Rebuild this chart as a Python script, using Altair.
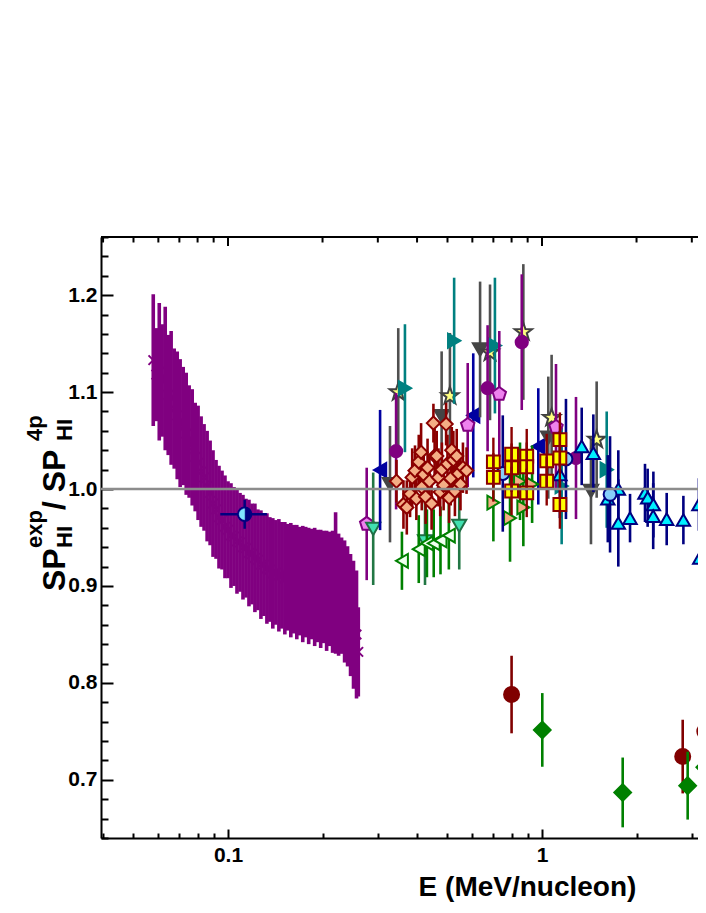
import altair as alt
import pandas as pd

# ---------------- data ----------------
# dense low-energy series (purple, x markers)
band_E = [0.0578, 0.0591, 0.0604, 0.0617, 0.0631, 0.0645, 0.0659, 0.0674, 0.0689, 0.0704,
          0.0720, 0.0736, 0.0752, 0.0769, 0.0786, 0.0803, 0.0821, 0.0839, 0.0858, 0.0877,
          0.0896, 0.0916, 0.0936, 0.0957, 0.0978, 0.1000, 0.1022, 0.1045, 0.1068, 0.1092,
          0.1116, 0.1141, 0.1166, 0.1192, 0.1218, 0.1245, 0.1273, 0.1301, 0.1330, 0.1359,
          0.1389, 0.1420, 0.1452, 0.1484, 0.1517, 0.1550, 0.1585, 0.1620, 0.1656, 0.1692,
          0.1730, 0.1768, 0.1807, 0.1847, 0.1888, 0.1930, 0.1973, 0.2016, 0.2061, 0.2107,
          0.2153, 0.2201, 0.2250, 0.2300, 0.2351, 0.2403, 0.2456, 0.2510, 0.2566, 0.2600]
band_v = [1.133, 1.118, 1.121, 1.112, 1.114, 1.097, 1.094, 1.083, 1.076, 1.068,
          1.065, 1.057, 1.049, 1.043, 1.033, 1.027, 1.018, 1.012, 1.003, 0.996,
          0.985, 0.979, 0.971, 0.968, 0.961, 0.958, 0.952, 0.951, 0.946, 0.945,
          0.940, 0.939, 0.934, 0.933, 0.929, 0.927, 0.922, 0.922, 0.918, 0.917,
          0.913, 0.914, 0.911, 0.911, 0.908, 0.909, 0.906, 0.907, 0.904, 0.905,
          0.902, 0.904, 0.900, 0.902, 0.899, 0.900, 0.897, 0.899, 0.895, 0.897,
          0.894, 0.903, 0.891, 0.890, 0.884, 0.879, 0.870, 0.860, 0.850, 0.832]
band_err = [0.068, 0.048, 0.071, 0.058, 0.074, 0.062, 0.069, 0.062, 0.066, 0.066,
            0.061, 0.063, 0.058, 0.060, 0.056, 0.059, 0.057, 0.055, 0.057, 0.054,
            0.055, 0.051, 0.053, 0.051, 0.053, 0.050, 0.054, 0.051, 0.054, 0.051,
            0.054, 0.051, 0.055, 0.052, 0.056, 0.052, 0.056, 0.053, 0.057, 0.054,
            0.057, 0.054, 0.058, 0.055, 0.058, 0.055, 0.059, 0.056, 0.059, 0.056,
            0.060, 0.057, 0.060, 0.057, 0.061, 0.058, 0.061, 0.058, 0.062, 0.059,
            0.063, 0.073, 0.063, 0.060, 0.063, 0.062, 0.063, 0.066, 0.066, 0.046]

# single point with horizontal error (blue / cyan half circle)
half_E = [0.113]
half_v = [0.974]
half_err = [0.015]
half_Elo = [0.0945]
half_Ehi = [0.133]

gray_E = [0.328, 0.479, 0.635, 1.047, 1.432]
gray_v = [1.005, 1.075, 1.144, 1.053, 0.998]
gray_err = [0.060, 0.067, 0.070, 0.063, 0.055]

star_E = [0.3485, 0.509, 0.683, 0.872, 1.073, 1.493]
star_v = [1.100, 1.096, 1.141, 1.162, 1.0735, 1.051]
star_err = [0.066, 0.065, 0.070, 0.070, 0.065, 0.060]

teal_E = [0.366, 0.525, 0.708, 1.155, 1.607]
teal_v = [1.104, 1.153, 1.148, 1.003, 1.020]
teal_err = [0.066, 0.065, 0.070, 0.060, 0.060]

pcirc_E = [0.343, 0.671, 0.862, 1.283]
pcirc_v = [1.039, 1.104, 1.1515, 1.032]
pcirc_err = [0.060, 0.065, 0.070, 0.063]

pent_E = [0.2765, 0.580, 0.731, 1.108]
pent_v = [0.964, 1.066, 1.098, 1.064]
pent_err = [0.058, 0.064, 0.065, 0.065]

navy_E = [0.305, 0.604, 0.973]
navy_v = [1.0196, 1.076, 1.044]
navy_err = [0.062, 0.064, 0.060]

aqua_E = [0.290, 0.424, 0.545]
aqua_v = [0.959, 0.946, 0.962]
aqua_err = [0.058, 0.045, 0.045]

gleft_E = [0.358, 0.405, 0.430, 0.452, 0.475, 0.505]
gleft_v = [0.926, 0.938, 0.944, 0.944, 0.947, 0.952]
gleft_err = [0.030, 0.035, 0.035, 0.035, 0.035, 0.035]

gright_E = [0.700, 0.791, 0.851, 0.872, 0.930]
gright_v = [0.986, 0.970, 1.008, 0.981, 1.005]
gright_err = [0.040, 0.045, 0.040, 0.040, 0.040]

diam_E = [0.344, 0.362, 0.371, 0.380, 0.386, 0.394, 0.398, 0.405, 0.412, 0.414,
          0.420, 0.426, 0.432, 0.438, 0.445, 0.451, 0.455, 0.462, 0.468, 0.474,
          0.480, 0.486, 0.495, 0.500, 0.506, 0.512, 0.516, 0.522, 0.528, 0.535,
          0.542, 0.550, 0.560, 0.575]
diam_v = [1.008, 0.984, 0.981, 0.995, 1.012, 1.019, 0.990, 1.028, 1.038, 1.002,
          1.015, 0.992, 1.022, 1.008, 0.985, 1.068, 1.034, 1.034, 1.012, 0.997,
          1.020, 1.004, 1.067, 1.026, 0.991, 1.011, 1.040, 1.030, 0.998, 1.034,
          1.016, 1.005, 1.022, 1.019]
diam_err = [0.022, 0.025, 0.028, 0.024, 0.030, 0.026, 0.022, 0.028, 0.030, 0.024,
            0.026, 0.028, 0.030, 0.025, 0.027, 0.020, 0.028, 0.026, 0.030, 0.025,
            0.028, 0.026, 0.022, 0.030, 0.026, 0.028, 0.024, 0.030, 0.026, 0.028,
            0.025, 0.027, 0.026, 0.024]

sq_E = [0.700, 0.700, 0.800, 0.800, 0.800, 0.894, 0.894, 0.894, 1.035, 1.035, 1.140, 1.140, 1.140]
sq_v = [1.028, 1.012, 1.036, 1.022, 0.998, 1.034, 1.023, 0.996, 1.029, 1.008, 1.051, 1.032, 0.984]
sq_err = [0.025, 0.025, 0.028, 0.025, 0.025, 0.028, 0.025, 0.025, 0.028, 0.025, 0.028, 0.025, 0.025]

cyan_E = [1.140, 1.338, 1.457, 1.620, 1.750, 1.750, 1.907, 2.128, 2.170, 2.263, 2.260, 2.495, 2.820, 3.160, 3.180]
cyan_v = [1.015, 1.044, 1.037, 0.990, 1.000, 0.965, 0.970, 0.996, 0.991, 0.984, 0.972, 0.969, 0.968, 0.984, 0.929]
cyan_err = [0.045, 0.040, 0.040, 0.045, 0.040, 0.045, 0.025, 0.030, 0.030, 0.034, 0.034, 0.027, 0.025, 0.027, 0.030]

lb_E = [0.750, 1.192, 1.647]
lb_v = [1.016, 1.031, 0.9945]
lb_err = [0.060, 0.062, 0.060]

mar_E = [0.800, 2.806, 3.300]
mar_v = [0.788, 0.724, 0.750]
mar_err = [0.040, 0.038, 0.040]

gd_E = [1.002, 1.807, 2.910, 3.300]
gd_v = [0.7515, 0.687, 0.694, 0.713]
gd_err = [0.038, 0.036, 0.035, 0.035]

# axis ticks / labels
x_label_values = [0.1, 1]
x_minor_ticks = [0.04, 0.05, 0.06, 0.07, 0.08, 0.09, 0.2, 0.3, 0.4, 0.5, 0.6, 0.7, 0.8, 0.9, 2, 3]
x_major_ticks = [0.1, 1]
y_label_values = [0.7, 0.8, 0.9, 1.0, 1.1, 1.2]
y_tick_values = [0.64, 0.66, 0.68, 0.70, 0.72, 0.74, 0.76, 0.78, 0.80, 0.82, 0.84, 0.86, 0.88,
                 0.90, 0.92, 0.94, 0.96, 0.98, 1.00, 1.02, 1.04, 1.06, 1.08, 1.10, 1.12, 1.14,
                 1.16, 1.18, 1.20, 1.22, 1.24, 1.26]
ref_line = [1.0]

# ---------------- chart ----------------
W, H = 597, 601
FONT = "Liberation Sans"
XS = alt.Scale(type="log", domain=[0.0394, 3.139], nice=False)
YS = alt.Scale(domain=[0.64, 1.26], nice=False, zero=False)

STAR = "M0,-1L0.235,-0.324L0.951,-0.309L0.38,0.124L0.588,0.809L0,0.4L-0.588,0.809L-0.38,0.124L-0.951,-0.309L-0.235,-0.324Z"
PENT = "M0,-1L0.951,-0.309L0.588,0.809L-0.588,0.809L-0.951,-0.309Z"
XMARK = "M-1,-1L1,1M-1,1L1,-1"
HALF = "M0,-1A1,1,0,0,0,0,1Z"


def frame(E, v, e):
    return pd.DataFrame({"E": E, "v": v, "e": e})


def err_layer(df, color, width=2.6):
    return (alt.Chart(df)
            .transform_calculate(lo="datum.v - datum.e", hi="datum.v + datum.e")
            .mark_rule(color=color, strokeWidth=width, clip=True)
            .encode(x=alt.X("E:Q", scale=XS, axis=None),
                    y=alt.Y("lo:Q", scale=YS, axis=None),
                    y2="hi:Q"))


def pt_layer(df, shape, size, fill, stroke, sw=1.8):
    return (alt.Chart(df)
            .mark_point(shape=shape, size=size, filled=True, fill=fill, stroke=stroke,
                        strokeWidth=sw, opacity=1, clip=True)
            .encode(x=alt.X("E:Q", scale=XS, axis=None),
                    y=alt.Y("v:Q", scale=YS, axis=None)))


layers = []

# axes (labels + frame lines)
axis_df = pd.DataFrame({"E": [0.1], "v": [1.0]})
layers.append(
    alt.Chart(axis_df).mark_point(opacity=0).encode(
        x=alt.X("E:Q", scale=XS, axis=alt.Axis(
            values=x_label_values, format="~g", labelFont=FONT, labelFontSize=21,
            labelFontWeight="bold", labelColor="black", labelPadding=6, ticks=False, tickSize=0,
            domainColor="black", domainWidth=2, grid=False, labelFlush=False,
            title="E (MeV/nucleon)", titleFont=FONT, titleFontSize=28, titleFontWeight="bold",
            titleColor="black", titleX=426, titleY=57, titleAlign="center",
            titleBaseline="alphabetic")),
        y=alt.Y("v:Q", scale=YS, axis=alt.Axis(
            values=y_label_values, format=".1f", labelFont=FONT, labelFontSize=21,
            labelFontWeight="bold", labelColor="black", labelPadding=4, ticks=False, tickSize=0,
            domainColor="black", domainWidth=2, grid=False, title=None))))

# inward ticks (bottom and left)
layers.append(
    alt.Chart(axis_df).mark_point(opacity=0).encode(
        x=alt.X("E:Q", scale=XS, axis=alt.Axis(
            orient="top", offset=-H, values=x_minor_ticks + x_major_ticks, labels=False,
            domain=False, ticks=True, tickColor="black", tickWidth=2,
            tickSize={"condition": {"test": "datum.value == 0.1 || datum.value == 1", "value": 9},
                      "value": 5},
            grid=False, title=None)),
        y=alt.Y("v:Q", scale=YS, axis=alt.Axis(
            orient="right", offset=-W, values=y_tick_values, labels=False, domain=False,
            ticks=True, tickColor="black", tickWidth=2,
            tickSize={"condition": {"test": "abs(datum.value*10 - round(datum.value*10)) < 0.001",
                                    "value": 12}, "value": 7},
            grid=False, title=None))))

# top frame line and its ticks
layers.append(alt.Chart(pd.DataFrame({"a": [0]})).mark_rule(color="black", strokeWidth=2).encode(
    x=alt.value(0), x2=alt.value(W + 2), y=alt.value(0)))
layers.append(alt.Chart(pd.DataFrame({"E": x_minor_ticks})).mark_rule(color="black", strokeWidth=2).encode(
    x=alt.X("E:Q", scale=XS, axis=None), y=alt.value(0), y2=alt.value(5.5)))
layers.append(alt.Chart(pd.DataFrame({"E": x_major_ticks})).mark_rule(color="black", strokeWidth=2).encode(
    x=alt.X("E:Q", scale=XS, axis=None), y=alt.value(0), y2=alt.value(9)))

# purple dense band
band = frame(band_E, band_v, band_err)
layers.append(err_layer(band, "#800080", 3.6))
layers.append(alt.Chart(band).mark_point(shape=XMARK, size=90, filled=False, stroke="#800080",
                                         strokeWidth=2, opacity=1, clip=True).encode(
    x=alt.X("E:Q", scale=XS, axis=None), y=alt.Y("v:Q", scale=YS, axis=None)))

# half-filled point with x error
half = pd.DataFrame({"E": half_E, "v": half_v, "e": half_err, "Elo": half_Elo, "Ehi": half_Ehi})
layers.append(alt.Chart(half).mark_rule(color="#000080", strokeWidth=2.5).encode(
    x=alt.X("Elo:Q", scale=XS, axis=None), x2="Ehi:Q", y=alt.Y("v:Q", scale=YS, axis=None)))
layers.append(err_layer(half, "#000080", 2.5))
layers.append(pt_layer(half, "circle", 190, "#000080", "#000080", 1.5))
layers.append(pt_layer(half, HALF, 120, "#7fe5ff", "#7fe5ff", 0.5))

# right-hand cluster
specs = [
    (frame(pent_E[:1], pent_v[:1], pent_err[:1]), PENT, 200, "#ee82ee", "#800080", "#800080"),
    (frame(aqua_E, aqua_v, aqua_err), "triangle-down", 200, "#40e0b0", "#1f6f45", "#227744"),
    (frame(navy_E, navy_v, navy_err), "triangle-left", 200, "#0000a0", "#0000a0", "#0000a0"),
    (frame(gray_E, gray_v, gray_err), "triangle-down", 210, "#454545", "#454545", "#505050"),
    (frame(star_E, star_v, star_err), STAR, 330, "#ffff80", "#404040", "#505050"),
    (frame(teal_E, teal_v, teal_err), "triangle-right", 200, "#008080", "#008080", "#008080"),
    (frame(pcirc_E, pcirc_v, pcirc_err), "circle", 150, "#800080", "#800080", "#800080"),
    (frame(pent_E[1:], pent_v[1:], pent_err[1:]), PENT, 200, "#ee82ee", "#800080", "#800080"),
    (frame(gleft_E, gleft_v, gleft_err), "triangle-left", 190, "#f0fff0", "#008000", "#008000"),
    (frame(diam_E, diam_v, diam_err), "diamond", 175, "#f4ad85", "#8b0000", "#8b0000"),
    (frame(gright_E, gright_v, gright_err), "triangle-right", 190, "#f4ad85", "#008000", "#008000"),
    (frame(cyan_E, cyan_v, cyan_err), "triangle-up", 180, "#00f0ff", "#000080", "#000080"),
    (frame(lb_E, lb_v, lb_err), "circle", 165, "#87cefa", "#000080", "#000080"),
    (frame(mar_E, mar_v, mar_err), "circle", 225, "#800000", "#800000", "#800000"),
    (frame(gd_E, gd_v, gd_err), "diamond", 280, "#008000", "#008000", "#008000"),
]
for df, shape, size, fill, stroke, ecol in specs:
    layers.append(err_layer(df, ecol, 2.6))
    layers.append(pt_layer(df, shape, size, fill, stroke, 2))

# yellow squares: markers then bars over them
sq = frame(sq_E, sq_v, sq_err)
layers.append(pt_layer(sq, "square", 165, "#ffff00", "#8b0000", 2))
layers.append(err_layer(sq, "#8b0000", 2.4))

# reference line at 1
layers.append(alt.Chart(pd.DataFrame({"v": ref_line})).mark_rule(color="#8c8c8c", strokeWidth=2.5).encode(
    y=alt.Y("v:Q", scale=YS, axis=None)))

# y-axis title built from pieces (rotated)
one = pd.DataFrame({"a": [0]})


def ytext(txt, x, y, size):
    return alt.Chart(one).mark_text(text=txt, angle=270, align="left", baseline="alphabetic",
                                    font=FONT, fontWeight="bold", fontSize=size, color="black").encode(
        x=alt.value(x), y=alt.value(y))


layers += [
    ytext("SP", -36, 354, 32),
    ytext("exp", -59, 311, 22),
    ytext("HI", -29, 311, 22),
    ytext(" / SP", -36, 273, 32),
    ytext("4p", -59, 204, 22),
    ytext("HI", -29, 204, 22),
]

chart = (alt.layer(*layers)
         .resolve_axis(x="independent", y="independent")
         .properties(width=W, height=H,
                     padding={"left": 93, "top": 229, "right": 0, "bottom": 66},
                     autosize=alt.AutoSizeParams(type="none"))
         .configure_view(stroke=None))

chart.save("out.html", embed_options={"renderer": "svg", "actions": False})
